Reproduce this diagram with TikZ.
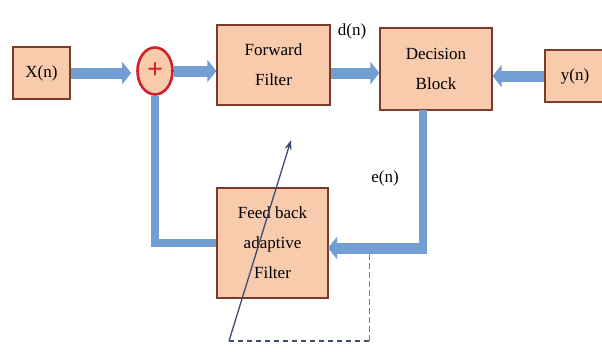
\documentclass[tikz,border=0pt]{standalone}
\usepackage{fontspec}
\setmainfont{Liberation Serif}
\usetikzlibrary{arrows.meta,shapes.geometric,calc}
\definecolor{peach}{HTML}{F8CBAD}
\definecolor{boxedge}{HTML}{7A3B2A}
\definecolor{flowblue}{HTML}{729ED4}
\definecolor{sumred}{HTML}{D0202A}
\definecolor{slate}{HTML}{3E4C6E}
\begin{document}
\begin{tikzpicture}[x=1pt,y=-1pt,
  blockbox/.style={draw=boxedge,line width=1.2pt,fill=peach,inner sep=0pt,
    font=\fontsize{17}{30}\selectfont,align=center},
  lbl/.style={font=\fontsize{17}{18}\selectfont,inner sep=0pt},
  flow/.style={draw=flowblue,line width=11pt,-{Triangle[width=22pt,length=9pt]}},
  flowline/.style={draw=flowblue,line width=8pt},
]
\useasboundingbox (0,0) rectangle (602,351);
\fill[white] (0,0) rectangle (602,351);

% blocks
\node[blockbox,minimum width=57pt,minimum height=52pt] (X) at (41.5,73) {X(n)};
\node[blockbox,minimum width=113pt,minimum height=80pt] (fwd) at (273.5,65) {Forward\\Filter};
\node[blockbox,minimum width=112pt,minimum height=82pt] (dec) at (436,69) {Decision\\Block};
\node[blockbox,minimum width=60pt,minimum height=52pt] (Y) at (575,76) {y(n)};
\node[blockbox,minimum width=111pt,minimum height=110pt] (fb) at (272.5,243) {Feed back\\adaptive\\Filter};
\node[ellipse,draw=sumred,line width=2.6pt,fill=peach,minimum width=35pt,minimum height=47pt,
  inner sep=0pt,text=sumred,font=\fontsize{28}{28}\selectfont\bfseries] (sum) at (155,71) {+};

% labels
\node[lbl] (dl) at (352,31) {d(n)};
\node[lbl] (el) at (385,178) {e(n)};

% helper coordinates
\coordinate (decdown) at (423,110);
\coordinate (corner) at (423,248);
\coordinate (fbin) at (328,248);
\coordinate (d0) at (229,341);
\coordinate (d1) at (291,140);
\coordinate (dc) at (369,341);
\coordinate (dtop) at (369,253);

% flow arrows
\draw[flow,shorten >=5pt] (X.east) -- (X.east -| sum.west);
\draw[flow] (sum.east) -- (sum.east -| fwd.west);
\draw[flow] ($(fwd.east)+(0,8)$) -- ($(dec.west)+(0,4)$);
\draw[flow] (Y.west) -- (Y.west -| dec.east);
\draw[flowline] (decdown) -- (corner);
\draw[flow] ($(corner)+(4,0)$) -- (fbin);
\draw[flowline] (fb.west) -| (sum.south);

% adaptation arrow and dashed path
\draw[slate,line width=2pt,dash pattern=on 5pt off 4pt] (d0) -- (dc);
\draw[gray,line width=0.8pt,dash pattern=on 6pt off 3pt] (dc) -- (dtop);
\draw[slate,line width=1.3pt,-{Stealth[length=10pt,width=7pt]}] (d0) -- (d1);
\end{tikzpicture}
\end{document}
